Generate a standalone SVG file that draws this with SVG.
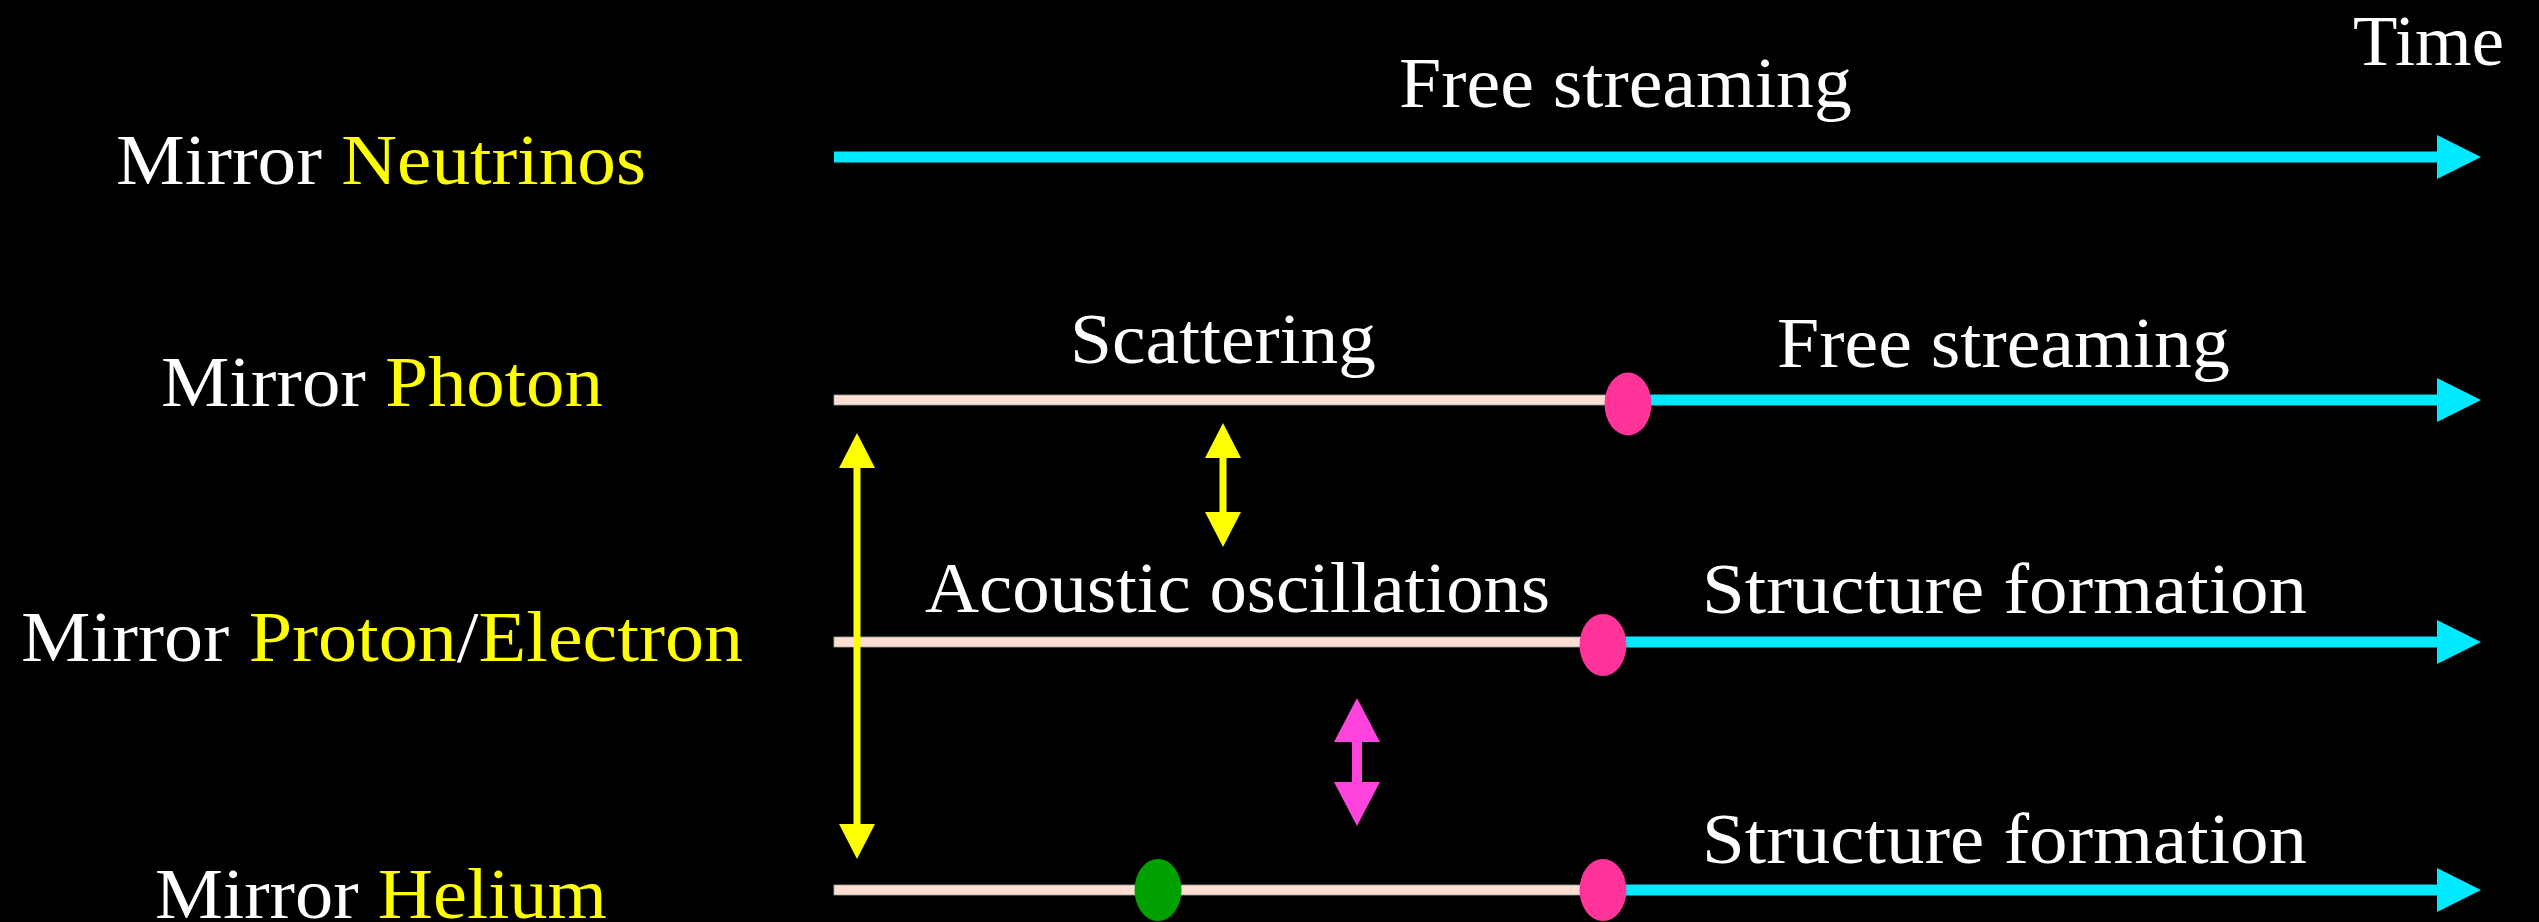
<svg xmlns="http://www.w3.org/2000/svg" width="2539" height="922" viewBox="0 0 2539 922">
<style>
text{font-family:"Liberation Serif","Times New Roman",serif;font-size:71px;fill:#ffffff}
.y{fill:#ffff00}
.cyan{stroke:#00eaff;stroke-width:11;fill:none}
.peach{fill:#ffddd2;stroke:#9aa89f;stroke-width:0.8}
.pink{fill:#ff3399}
.green{fill:#00a000}
.yl{stroke:#ffff00;stroke-width:7;fill:none}
.mg{stroke:#ff44dd;stroke-width:10;fill:none}
</style>
<defs>
<marker id="ac" markerUnits="userSpaceOnUse" viewBox="0 0 44 44" refX="0" refY="22" markerWidth="44" markerHeight="44" orient="auto"><path d="M0,0 L44,22 L0,44 Z" fill="#00eaff"/></marker>
<marker id="ay" markerUnits="userSpaceOnUse" viewBox="0 0 35 36" refX="0" refY="18" markerWidth="35" markerHeight="36" orient="auto-start-reverse"><path d="M0,0 L35,18 L0,36 Z" fill="#ffff00"/></marker>
<marker id="am" markerUnits="userSpaceOnUse" viewBox="0 0 44 46" refX="0" refY="23" markerWidth="44" markerHeight="46" orient="auto-start-reverse"><path d="M0,0 L44,23 L0,46 Z" fill="#ff44dd"/></marker>
</defs>
<rect x="0" y="0" width="2539" height="922" fill="#000000"/>

<g id="labels">
<text x="116" y="184" textLength="530" lengthAdjust="spacingAndGlyphs">Mirror <tspan class="y">Neutrinos</tspan></text>
<text x="161" y="406" textLength="442" lengthAdjust="spacingAndGlyphs">Mirror <tspan class="y">Photon</tspan></text>
<text x="21" y="661" textLength="722" lengthAdjust="spacingAndGlyphs">Mirror <tspan class="y">Proton</tspan>/<tspan class="y">Electron</tspan></text>
<text x="155" y="918" textLength="452" lengthAdjust="spacingAndGlyphs">Mirror <tspan class="y">Helium</tspan></text>
<text x="2353" y="65" textLength="151" lengthAdjust="spacingAndGlyphs">Time</text>
</g>

<g id="connectors">
<line class="cyan" x1="834" y1="157" x2="2437" y2="157" marker-end="url(#ac)"/>
<rect class="peach" x="834" y="395" width="794" height="10"/>
<line class="cyan" x1="1628" y1="400" x2="2437" y2="400" marker-end="url(#ac)"/>
<rect class="peach" x="834" y="637" width="770" height="10"/>
<line class="cyan" x1="1604" y1="642" x2="2437" y2="642" marker-end="url(#ac)"/>
<rect class="peach" x="834" y="885" width="770" height="10"/>
<line class="cyan" x1="1604" y1="890" x2="2437" y2="890" marker-end="url(#ac)"/>
<line class="yl" x1="1223" y1="458" x2="1223" y2="512" marker-start="url(#ay)" marker-end="url(#ay)"/>
<line class="yl" x1="857" y1="468" x2="857" y2="824" marker-start="url(#ay)" marker-end="url(#ay)"/>
<line class="mg" x1="1357" y1="742" x2="1357" y2="782" marker-start="url(#am)" marker-end="url(#am)"/>
</g>

<g id="node-photon-decoupling"><ellipse class="pink" cx="1628" cy="404" rx="23.5" ry="31.5"/></g>
<g id="node-proton-decoupling"><ellipse class="pink" cx="1603" cy="645" rx="23.5" ry="31"/></g>
<g id="node-helium-green"><ellipse class="green" cx="1158" cy="890" rx="23.5" ry="31"/></g>
<g id="node-helium-decoupling"><ellipse class="pink" cx="1603" cy="890" rx="23.5" ry="31"/></g>

<g id="phase-labels">
<text x="1399" y="107" textLength="453" lengthAdjust="spacingAndGlyphs">Free streaming</text>
<text x="1070" y="363" textLength="306" lengthAdjust="spacingAndGlyphs">Scattering</text>
<text x="1777" y="367" textLength="453" lengthAdjust="spacingAndGlyphs">Free streaming</text>
<text x="925" y="612" textLength="625" lengthAdjust="spacingAndGlyphs">Acoustic oscillations</text>
<text x="1702" y="613" textLength="605" lengthAdjust="spacingAndGlyphs">Structure formation</text>
<text x="1702" y="863" textLength="605" lengthAdjust="spacingAndGlyphs">Structure formation</text>
</g>
</svg>
